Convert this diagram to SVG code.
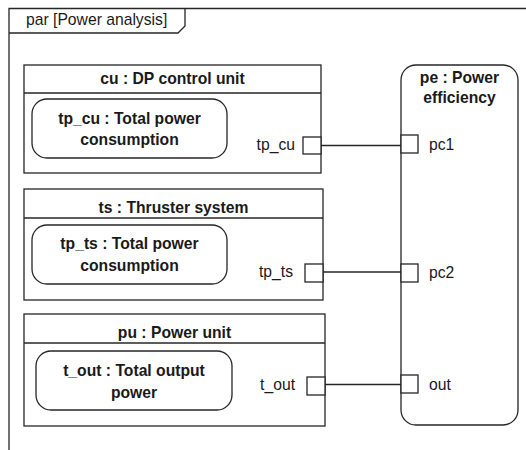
<svg xmlns="http://www.w3.org/2000/svg" width="526" height="450" viewBox="0 0 526 450">
<style>
.ln{fill:none;stroke:#262626;stroke-width:1.3}
.box{fill:#ffffff;stroke:#262626;stroke-width:1.3}
.port{fill:#ffffff;stroke:#262626;stroke-width:1.3}
text{font-family:"Liberation Sans",Arial,sans-serif;font-size:15.7px;fill:#1a1a1a}
.b{font-weight:bold;text-anchor:middle}
.e{text-anchor:end}
</style>
<rect width="526" height="450" fill="#ffffff"/>
<g id="frame">
<path class="ln" d="M9,450 V8.5 H526"/>
<path class="ln" d="M9,33 H178 L185,26 V8.5"/>
<text x="26" y="25">par [Power analysis]</text>
</g>
<g id="connectors">
<line class="ln" x1="321" y1="145.5" x2="401" y2="145.5"/>
<line class="ln" x1="323" y1="272" x2="401" y2="272"/>
<line class="ln" x1="325" y1="384.5" x2="401" y2="384.5"/>
</g>
<g id="cu">
<rect class="box" x="24" y="65" width="297" height="108"/>
<line class="ln" x1="24" y1="93" x2="321" y2="93"/>
<text class="b" x="172.5" y="84">cu : DP control unit</text>
<rect class="box" x="32" y="99" width="195" height="59" rx="15"/>
<text class="b" x="129.5" y="124">tp_cu : Total power</text>
<text class="b" x="129.5" y="145">consumption</text>
<text class="e" x="295" y="150">tp_cu</text>
<rect class="port" x="303" y="137" width="18" height="17"/>
</g>
<g id="ts">
<rect class="box" x="24" y="189" width="299" height="111"/>
<line class="ln" x1="24" y1="218" x2="323" y2="218"/>
<text class="b" x="173.5" y="213">ts : Thruster system</text>
<rect class="box" x="32" y="225" width="195" height="59" rx="15"/>
<text class="b" x="129.5" y="249">tp_ts : Total power</text>
<text class="b" x="129.5" y="271">consumption</text>
<text class="e" x="293" y="277">tp_ts</text>
<rect class="port" x="305" y="264" width="18" height="18"/>
</g>
<g id="pu">
<rect class="box" x="24" y="314" width="301" height="112"/>
<line class="ln" x1="24" y1="343" x2="325" y2="343"/>
<text class="b" x="174.5" y="338">pu : Power unit</text>
<rect class="box" x="36" y="351" width="196" height="59" rx="15"/>
<text class="b" x="134" y="376">t_out : Total output</text>
<text class="b" x="134" y="398">power</text>
<text class="e" x="295" y="390">t_out</text>
<rect class="port" x="307" y="377" width="18" height="18"/>
</g>
<g id="pe">
<rect class="box" x="401" y="65" width="117" height="360" rx="15"/>
<text class="b" x="459.5" y="83">pe : Power</text>
<text class="b" x="459.5" y="103">efficiency</text>
<rect class="port" x="401" y="135" width="17" height="18"/>
<text x="429" y="150">pc1</text>
<rect class="port" x="401" y="264" width="17" height="18"/>
<text x="429" y="278">pc2</text>
<rect class="port" x="401" y="375" width="17" height="18"/>
<text x="429" y="390">out</text>
</g>
</svg>
